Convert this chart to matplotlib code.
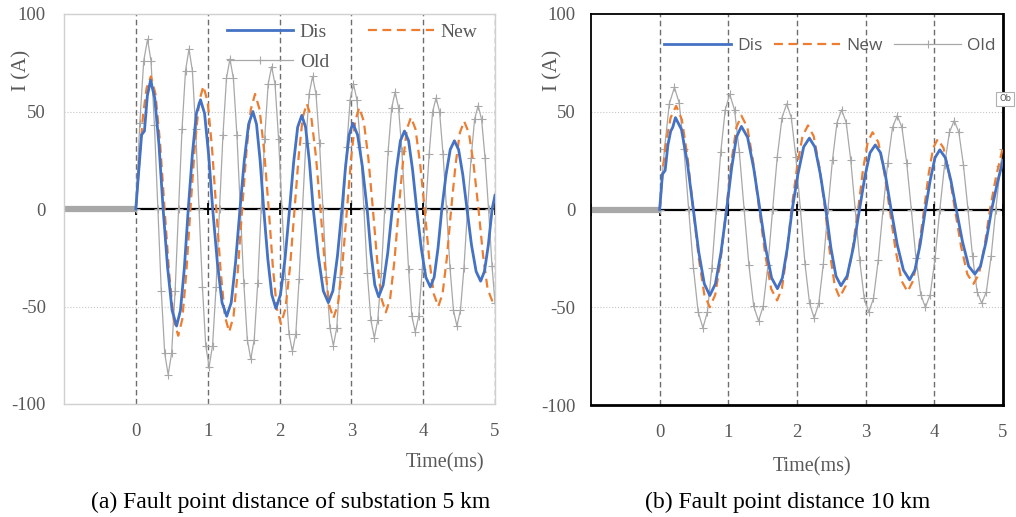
import numpy as np
import matplotlib
matplotlib.use("Agg")
import matplotlib.pyplot as plt

plt.rcParams["axes.unicode_minus"] = False

# ------------ data (time in ms, current in A) ------------ #

# (a) fault 5 km from substation
a_dis_t = [0, 0.02, 0.08, 0.12, 0.16, 0.205, 0.263, 0.322, 0.38,
           0.442, 0.505, 0.567, 0.621, 0.676, 0.73, 0.787, 0.843, 0.90, 0.957, 1.013, 1.07,
           1.135, 1.2, 1.265, 1.328, 1.388, 1.45, 1.51, 1.57, 1.63, 1.68, 1.73, 1.78,
           1.837, 1.893, 1.95, 2.013, 2.077, 2.14, 2.197, 2.253, 2.31, 2.363, 2.417, 2.47,
           2.54, 2.61, 2.68, 2.743, 2.807, 2.87, 2.92, 2.97, 3.02, 3.087, 3.153, 3.22,
           3.273, 3.327, 3.38, 3.443, 3.507, 3.57, 3.627, 3.683, 3.74, 3.797, 3.853, 3.91,
           3.973, 4.037, 4.10, 4.153, 4.207, 4.26, 4.318, 4.377, 4.435, 4.493, 4.552, 4.61,
           4.673, 4.737, 4.80, 4.853, 4.907, 4.96, 5.0]
a_dis = [0, 10, 38, 40, 58, 66, 57, 33, 0,
         -30, -52, -60, -52, -30, 0, 28, 49, 56, 49, 28, 0,
         -27.5, -48, -55, -48, -27.5, 0, 25, 43.5, 50, 43.5, 25, 0,
         -25.5, -44, -51, -44, -25.5, 0, 24, 42, 48, 42, 24, 0,
         -24, -42, -48, -42, -24, 0, 22, 38, 44, 38, 22, 0,
         -22.5, -39, -45, -39, -22.5, 0, 20, 35, 40, 35, 20, 0,
         -20, -35, -40, -35, -20, 0, 17.5, 30.5, 35, 30.5, 17.5, 0,
         -18.5, -32, -37, -32, -18.5, 0, 7]

a_new_t = [0, 0.05, 0.10, 0.15, 0.21, 0.273, 0.337, 0.40,
           0.463, 0.527, 0.59, 0.647, 0.703, 0.76, 0.82, 0.88, 0.94, 1.0, 1.06, 1.12,
           1.18, 1.24, 1.30, 1.36, 1.42, 1.48, 1.54, 1.60, 1.66, 1.723, 1.787, 1.85,
           1.907, 1.963, 2.02, 2.083, 2.147, 2.21, 2.267, 2.323, 2.38, 2.443, 2.507, 2.57,
           2.63, 2.69, 2.75, 2.813, 2.877, 2.94, 2.997, 3.053, 3.11, 3.173, 3.237, 3.30,
           3.36, 3.42, 3.48, 3.54, 3.60, 3.66, 3.717, 3.773, 3.83, 3.893, 3.957, 4.02,
           4.083, 4.147, 4.21, 4.27, 4.33, 4.39, 4.45, 4.51, 4.57, 4.637, 4.703, 4.77,
           4.833, 4.897, 4.96, 5.0]
a_new = [0, 25, 48, 62, 68, 59, 34, 0,
         -32.5, -56.5, -65, -56.5, -32.5, 0, 31.5, 55, 63, 55, 31.5, 0,
         -31.5, -55, -63, -55, -31.5, 0, 29.5, 51, 59, 51, 29.5, 0,
         -29.5, -51, -59, -51, -29.5, 0, 27, 47, 54, 47, 27, 0,
         -28, -49, -56, -49, -28, 0, 26, 45, 52, 45, 26, 0,
         -26.5, -46, -53, -46, -26.5, 0, 23.5, 41, 47, 41, 23.5, 0,
         -25, -43.5, -50, -43.5, -25, 0, 22.5, 39, 45, 39, 22.5, 0,
         -23.5, -41, -47, -45]

a_old_t = [0, 0.055, 0.11, 0.163, 0.211, 0.259, 0.307, 0.354, 0.402, 0.45,
           0.498, 0.547, 0.595, 0.643, 0.692, 0.74, 0.787, 0.833, 0.88, 0.927, 0.973, 1.02,
           1.068, 1.117, 1.165, 1.213, 1.262, 1.31, 1.358, 1.407, 1.455, 1.503, 1.552, 1.60,
           1.648, 1.697, 1.745, 1.793, 1.842, 1.89, 1.938, 1.987, 2.035, 2.083, 2.132, 2.18,
           2.227, 2.273, 2.32, 2.367, 2.413, 2.46, 2.508, 2.557, 2.605, 2.653, 2.702, 2.75,
           2.797, 2.843, 2.89, 2.937, 2.983, 3.03, 3.078, 3.127, 3.175, 3.223, 3.272, 3.32,
           3.368, 3.417, 3.465, 3.513, 3.562, 3.61, 3.657, 3.703, 3.75, 3.797, 3.843, 3.89,
           3.938, 3.987, 4.035, 4.083, 4.132, 4.18, 4.228, 4.277, 4.325, 4.373, 4.422, 4.47,
           4.519, 4.568, 4.618, 4.667, 4.716, 4.765, 4.813, 4.862, 4.91, 4.958, 5.0]
a_old = [0, 44, 76, 87, 76, 43, 0, -42, -74, -85,
         -74, -42, 0, 41, 71, 82, 71, 41, 0, -40, -70, -81,
         -70, -40, 0, 38, 67, 77, 67, 38, 0, -38, -67, -77,
         -67, -38, 0, 36, 64, 73, 64, 36, 0, -36, -64, -73,
         -64, -36, 0, 34, 59, 68, 59, 34, 0, -35, -61, -70,
         -61, -35, 0, 32, 56, 64, 56, 32, 0, -33, -57, -66,
         -57, -33, 0, 30, 52, 60, 52, 30, 0, -31, -55, -63,
         -55, -31, 0, 28, 50, 57, 50, 28, 0, -30, -52, -60,
         -52, -30, 0, 26, 46, 53, 46, 26, 0, -29, -48]

# (b) fault 10 km
b_dis_t = [0, 0.04, 0.08, 0.12, 0.16, 0.19, 0.23, 0.317, 0.403, 0.49,
           0.57, 0.65, 0.73, 0.812, 0.893, 0.975, 1.047, 1.118, 1.19, 1.28, 1.37, 1.46,
           1.545, 1.63, 1.715, 1.787, 1.858, 1.93, 2.013, 2.097, 2.18, 2.26, 2.34, 2.42,
           2.493, 2.567, 2.64, 2.73, 2.82, 2.91, 2.987, 3.063, 3.14, 3.217, 3.293, 3.37,
           3.46, 3.55, 3.64, 3.717, 3.793, 3.87, 3.94, 4.01, 4.08, 4.16, 4.24, 4.32,
           4.41, 4.50, 4.59, 4.672, 4.753, 4.835, 4.92, 5.0]
b_dis = [0, 18, 20, 33, 40, 42, 47, 41, 24, 0,
         -22, -38, -44, -38, -22, 0, 21, 37, 42.5, 37, 21, 0,
         -20, -35, -40.5, -35, -20, 0, 18, 32, 36.5, 32, 18, 0,
         -19.5, -34, -39, -34, -19.5, 0, 16.5, 29, 33, 29, 16.5, 0,
         -18, -31, -36, -31, -18, 0, 15, 26.5, 30.5, 26.5, 15, 0,
         -16.5, -29, -33, -29, -16.5, 0, 14, 25]

b_new_t = [0, 0.05, 0.10, 0.16, 0.24, 0.323, 0.407, 0.49,
           0.57, 0.65, 0.73, 0.81, 0.89, 0.97, 1.043, 1.117, 1.19, 1.277, 1.363, 1.45,
           1.537, 1.623, 1.71, 1.78, 1.85, 1.92, 2.0, 2.08, 2.16, 2.243, 2.327, 2.41,
           2.48, 2.55, 2.62, 2.71, 2.80, 2.89, 2.96, 3.03, 3.10, 3.183, 3.267, 3.35,
           3.437, 3.523, 3.61, 3.69, 3.77, 3.85, 3.917, 3.983, 4.05, 4.133, 4.217, 4.30,
           4.39, 4.48, 4.57, 4.65, 4.73, 4.81, 4.90, 5.0]
b_new = [0, 22, 36, 47, 53, 46, 26.5, 0,
         -25, -43.5, -50, -43.5, -25, 0, 24, 42, 48, 42, 24, 0,
         -23, -40.5, -46.5, -40.5, -23, 0, 21.5, 37.5, 43, 37.5, 21.5, 0,
         -22.5, -39, -45, -39, -22.5, 0, 20, 34.5, 39.5, 34.5, 20, 0,
         -21, -36.5, -42, -36.5, -21, 0, 18, 31.5, 36, 31.5, 18, 0,
         -19, -33, -38, -33, -19, 0, 17, 32]

b_old_t = [0, 0.07, 0.14, 0.215, 0.284, 0.353, 0.4225, 0.492, 0.561, 0.63,
           0.695, 0.76, 0.825, 0.89, 0.955, 1.02, 1.09, 1.16, 1.23, 1.30, 1.37, 1.44,
           1.508, 1.577, 1.645, 1.713, 1.782, 1.85, 1.917, 1.983, 2.05, 2.117, 2.183, 2.25,
           2.317, 2.383, 2.45, 2.517, 2.583, 2.65, 2.716, 2.782, 2.848, 2.913, 2.979, 3.045,
           3.114, 3.183, 3.253, 3.322, 3.391, 3.46, 3.528, 3.597, 3.665, 3.733, 3.802, 3.87,
           3.94, 4.01, 4.08, 4.15, 4.22, 4.29, 4.357, 4.423, 4.49, 4.557, 4.623, 4.69,
           4.758, 4.827, 4.895, 4.963, 5.0]
b_old = [0, 31, 54, 62.5, 54.5, 31, 0, -30, -52.5, -60.5,
         -52.5, -30, 0, 29.5, 51, 59, 51, 29.5, 0, -28.5, -49.5, -57,
         -49.5, -28.5, 0, 27, 47, 54, 47, 27, 0, -28, -48, -55.5,
         -48, -28, 0, 25.5, 44.5, 51, 44.5, 25.5, 0, -26, -45.5, -52.5,
         -45.5, -26, 0, 24, 42, 48, 42, 24, 0, -25, -43.5, -50,
         -43.5, -25, 0, 23, 39.5, 45.5, 39.5, 23, 0, -24, -42, -48,
         -42, -24, 0, 22, 31]

pre_t = [-1, 0]
pre_i = [0, 0]

x_ticks = [0, 1, 2, 3, 4, 5]
y_ticks = [-100, -50, 0, 50, 100]

BLUE = "#4472C4"
ORANGE = "#ED7D31"
GREY = "#A8A8A8"
TXT = "#595959"
SERIF = ["Liberation Serif", "DejaVu Serif"]


def panel(ax, dis_t, dis, new_t, new, old_t, old, frame):
    ax.set_xlim(-1, 5)
    ax.set_ylim(-100, 100)

    for v in (50, -50):
        ax.axhline(v, color="#c6c6c6", ls=":", lw=0.8, zorder=0.5)
    for x in x_ticks:
        ax.axvline(x, color="#6e6e6e", ls=(0, (4, 2.5)), lw=1.0, zorder=0.6)

    # zero axis with its little tick marks
    ax.plot([-1, 5], [0, 0], color="black", lw=1.6, zorder=1)
    ax.plot([-1] + x_ticks, [0] * 7, ls="none", marker="|", ms=8, mew=1.3,
            color="black", zorder=1)

    ax.plot(pre_t, pre_i, color=GREY, lw=4.5, solid_capstyle="butt", zorder=1.5)
    l_old, = ax.plot(old_t, old, color=GREY, lw=0.9, marker="+", ms=6, mew=0.8,
                     label="Old", zorder=2)
    l_new, = ax.plot(new_t, new, color=ORANGE, lw=1.6, ls=(0, (4, 2.5)),
                     label="New", zorder=3)
    l_dis, = ax.plot(dis_t, dis, color=BLUE, lw=2.0, label="Dis", zorder=4)

    ax.set_xticks(x_ticks)
    ax.set_yticks(y_ticks)
    ax.tick_params(length=0, labelsize=13.5, labelcolor=TXT)
    ax.tick_params(axis="x", pad=14)
    ax.tick_params(axis="y", pad=13 if frame == "light" else 11)
    for lab in ax.get_xticklabels() + ax.get_yticklabels():
        lab.set_family(SERIF)

    if frame == "light":
        for s in ax.spines.values():
            s.set_color("#d0d0d0")
            s.set_linewidth(1.0)
    else:
        for s in ax.spines.values():
            s.set_color("black")
            s.set_linewidth(1.3)
        ax.spines["bottom"].set_linewidth(2.0)
        ax.spines["right"].set_linewidth(2.0)
    return l_dis, l_new, l_old


fig = plt.figure(figsize=(10.16, 5.17), dpi=100)
ax1 = fig.add_axes([64 / 1016, 113 / 517, 431 / 1016, 390 / 517])
ax2 = fig.add_axes([591 / 1016, 112 / 517, 412 / 1016, 391 / 517])

d1, n1, o1 = panel(ax1, a_dis_t, a_dis, a_new_t, a_new, a_old_t, a_old, "light")
d2, n2, o2 = panel(ax2, b_dis_t, b_dis, b_new_t, b_new, b_old_t, b_old, "dark")

# ------------ legends ------------ #
ax1.legend([d1, o1, n1], ["Dis", "Old", "New"], ncol=2, loc="upper left",
           bbox_to_anchor=(0.378, 0.977), frameon=False, borderpad=0,
           borderaxespad=0, handlelength=3.4, handletextpad=0.35,
           columnspacing=2.0, labelspacing=0.65,
           prop={"family": SERIF, "size": 14}, labelcolor=TXT)
ax2.legend([d2, n2, o2], ["Dis", "New", "Old"], ncol=3, loc="upper left",
           bbox_to_anchor=(0.177, 0.94), frameon=False, borderpad=0,
           borderaxespad=0, handlelength=3.85, handletextpad=0.35,
           columnspacing=0.65, prop={"family": ["Open Sans", "DejaVu Sans"], "size": 12.5},
           labelcolor=TXT)

# ------------ labels and captions ------------ #
def px(x, y):
    return x / 1016, 1 - y / 517

fig.text(*px(22, 70), "I (A)", rotation=90, ha="center", va="center",
         family=SERIF, size=15, color=TXT)
fig.text(*px(553, 70), "I (A)", rotation=90, ha="center", va="center",
         family=SERIF, size=15, color=TXT)
fig.text(*px(445, 463), "Time(ms)", ha="center", va="center",
         family=SERIF, size=14.5, color=TXT)
fig.text(*px(812, 467), "Time(ms)", ha="center", va="center",
         family=SERIF, size=14.5, color=TXT)
fig.text(*px(291, 502), "(a) Fault point distance of substation 5 km",
         ha="center", va="center", family=SERIF, size=17, color="black")
fig.text(*px(788, 502), "(b) Fault point distance 10 km",
         ha="center", va="center", family=SERIF, size=17, color="black")
fig.text(*px(999, 99), "Ob", ha="left", va="center", family=["DejaVu Sans"],
         size=6, color=TXT,
         bbox=dict(boxstyle="square,pad=0.35", fc="white", ec="#b0b0b0", lw=0.8))

fig.savefig("out.png", dpi=100)
